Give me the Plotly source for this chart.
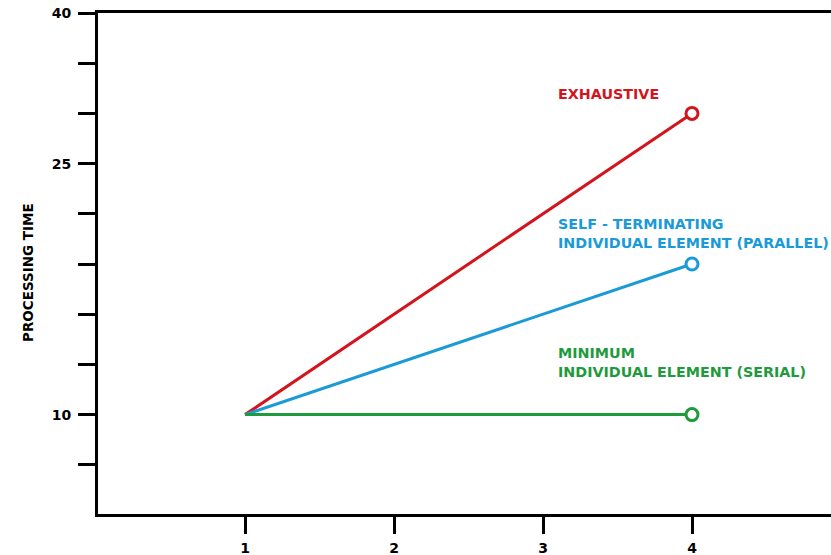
import plotly.graph_objects as go

# Data (y in tick-level units: level 1 is labelled "10", level 6 "25", level 9 "40")
x_vals = [1, 4]
exhaustive = [1, 7]
parallel = [1, 4]
minimum = [1, 1]
y_tick_levels = [0, 1, 2, 3, 4, 5, 6, 7, 8, 9]
y_tick_text = ["", "10", "", "", "", "", "25", "", "", "40"]
x_tick_vals = [1, 2, 3, 4]
x_tick_text = ["1", "2", "3", "4"]

RED = "#d3141d"
BLUE = "#1a9ad7"
GREEN = "#1f9a3c"
FONT = "DejaVu Sans"

ML, MT, MB = 98, 13, 41
PW, PH = 831 - ML, 555 - MT - MB

fig = go.Figure()
for ys, col in [(exhaustive, RED), (parallel, BLUE), (minimum, GREEN)]:
    fig.add_trace(go.Scatter(
        x=x_vals, y=ys, mode="lines",
        line=dict(color=col, width=3), hoverinfo="skip", showlegend=False))
    fig.add_trace(go.Scatter(
        x=[x_vals[-1]], y=[ys[-1]], mode="markers",
        marker=dict(symbol="circle", size=12, color="white",
                    line=dict(color=col, width=3)),
        hoverinfo="skip", showlegend=False))

fig.update_layout(
    width=831, height=555,
    margin=dict(l=ML, r=0, t=MT, b=MB),
    plot_bgcolor="white", paper_bgcolor="white",
    font=dict(family=FONT, color="black"),
    xaxis=dict(range=[0.013, 4.933], showgrid=False, zeroline=False,
               showline=True, linecolor="black", linewidth=3, mirror=True,
               ticks="outside", ticklen=17, tickwidth=3, tickcolor="black",
               tickvals=x_tick_vals, ticktext=x_tick_text,
               tickfont=dict(family=FONT, size=14, color="black", weight="bold"),
               ticklabelstandoff=2),
    yaxis=dict(range=[-0.98, 9.0], showgrid=False, zeroline=False,
               showline=True, linecolor="black", linewidth=3,
               ticks="outside", ticklen=17, tickwidth=3, tickcolor="black",
               tickvals=y_tick_levels, ticktext=y_tick_text,
               tickfont=dict(family=FONT, size=14, color="black", weight="bold"),
               ticklabelstandoff=4),
)

fig.add_annotation(text="<b>PROCESSING TIME</b>", textangle=-90,
                   xref="paper", yref="paper", x=(18 - ML) / PW, y=(555 - MB - 273) / PH,
                   showarrow=False, font=dict(family=FONT, size=13.5, color="black"))

TX = 3.087
fig.add_annotation(text="<b>EXHAUSTIVE</b>", x=TX, y=7.39, xanchor="left",
                   showarrow=False, align="left",
                   font=dict(family=FONT, size=14.3, color=RED))
fig.add_annotation(text="<b>SELF - TERMINATING<br>INDIVIDUAL ELEMENT (PARALLEL)</b>",
                   x=TX, y=4.615, xanchor="left", showarrow=False, align="left",
                   font=dict(family=FONT, size=14.3, color=BLUE))
fig.add_annotation(text="<b>MINIMUM<br>INDIVIDUAL ELEMENT (SERIAL)</b>",
                   x=TX, y=2.036, xanchor="left", showarrow=False, align="left",
                   font=dict(family=FONT, size=14.3, color=GREEN))

fig.write_html("out.html", config={"displayModeBar": False},
               post_script="document.body.style.margin='0';document.body.style.overflow='hidden';")
